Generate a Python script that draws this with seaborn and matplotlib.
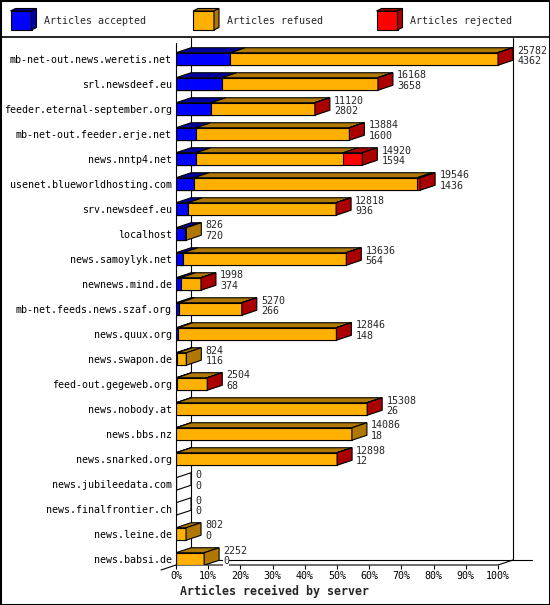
import numpy as np
import pandas as pd
import seaborn as sns
import matplotlib
matplotlib.use("Agg")
import matplotlib.pyplot as plt
from matplotlib.patches import Polygon, Rectangle
from matplotlib.lines import Line2D

servers = [
    "mb-net-out.news.weretis.net", "srl.newsdeef.eu", "feeder.eternal-september.org",
    "mb-net-out.feeder.erje.net", "news.nntp4.net", "usenet.blueworldhosting.com",
    "srv.newsdeef.eu", "localhost", "news.samoylyk.net", "newnews.mind.de",
    "mb-net.feeds.news.szaf.org", "news.quux.org", "news.swapon.de", "feed-out.gegeweb.org",
    "news.nobody.at", "news.bbs.nz", "news.snarked.org", "news.jubileedata.com",
    "news.finalfrontier.ch", "news.leine.de", "news.babsi.de",
]
offered = [25782, 16168, 11120, 13884, 14920, 19546, 12818, 826, 13636, 1998, 5270,
           12846, 824, 2504, 15308, 14086, 12898, 0, 0, 802, 2252]
accepted = [4362, 3658, 2802, 1600, 1594, 1436, 936, 720, 564, 374, 266,
            148, 116, 68, 26, 18, 12, 0, 0, 0, 0]
rejected = [40, 30, 20, 30, 1530, 250, 20, 0, 20, 10, 10,
            10, 0, 10, 20, 0, 10, 0, 0, 0, 0]
legend_labels = ["Articles accepted", "Articles refused", "Articles rejected"]
x_ticks = list(range(0, 101, 10))

BLUE, BLUE_D = "#0000FF", "#0000A0"
ORANGE, ORANGE_D = "#FFB000", "#B07800"
RED, RED_D = "#FF0000", "#AA0000"
FONT = "DejaVu Sans Mono"

sns.set_theme(style="white")
plt.rcParams["font.family"] = [FONT, "DejaVu Sans"]

offered_a = np.array(offered, float)
accepted_a = np.array(accepted, float)
rejected_a = np.array(rejected, float)
refused_a = offered_a - accepted_a - rejected_a
vmax = offered_a.max()
df = pd.DataFrame({
    "server": servers,
    "acc": accepted_a / vmax * 100,
    "accref": (accepted_a + refused_a) / vmax * 100,
    "tot": offered_a / vmax * 100,
})

W, H = 550, 605
fig = plt.figure(figsize=(W / 100, H / 100), dpi=100)
px_left, px_right, px_top, px_bot = 176, 532, 38, 565
ax = fig.add_axes([px_left / W, 1 - px_bot / H, (px_right - px_left) / W, (px_bot - px_top) / H])

LW = 0.8
for col, c in [("tot", RED), ("accref", ORANGE), ("acc", BLUE)]:
    sns.barplot(data=df, x=col, y="server", orient="h", color=c, saturation=1,
                width=0.5, edgecolor="black", linewidth=LW, errorbar=None, ax=ax)

xscale = 322 / 100.0          # px per percent
row = 25.0                    # px per row
x_max = (px_right - px_left) / xscale
y_top = (px_top - 59) / row
y_bot = (px_bot - 59) / row
dx = 15 / xscale
dy = 5 / row
hh = 0.25

ax.set_xlim(0, x_max)
ax.set_ylim(y_bot, y_top)

# 3D faces
for i, r in df.iterrows():
    yt, yb = i - hh, i + hh
    segs = [(0, r["acc"], BLUE_D), (r["acc"], r["accref"], ORANGE_D), (r["accref"], r["tot"], RED_D)]
    last = None
    for a, b, dc in segs:
        if b - a > 1e-9:
            ax.add_patch(Polygon([(a, yt), (a + dx, yt - dy), (b + dx, yt - dy), (b, yt)],
                                 closed=True, facecolor=dc, edgecolor="black", lw=LW, zorder=3))
            last = dc
    t = r["tot"]
    ax.add_patch(Polygon([(t, yt), (t + dx, yt - dy), (t + dx, yb - dy), (t, yb)], closed=True,
                         facecolor=last if last else "none", edgecolor="black", lw=LW, zorder=3))
    tx = t + dx + 1.3
    ax.text(tx, i - 0.34, f"{offered[i]}", ha="left", va="center", fontsize=7.2,
            family=FONT, zorder=5, bbox=dict(facecolor="white", edgecolor="none", pad=0))
    ax.text(tx, i + 0.08, f"{accepted[i]}", ha="left", va="center", fontsize=7.2,
            family=FONT, zorder=5, bbox=dict(facecolor="white", edgecolor="none", pad=0))

# frame lines
kw = dict(color="black", lw=LW, zorder=0.5, clip_on=False)
ax.add_line(Line2D([0, 0], [y_bot, y_top + dy], **kw))
ax.add_line(Line2D([dx, dx], [y_bot - dy, y_top], **kw))
ax.add_line(Line2D([100 + dx, 100 + dx], [y_bot - dy, y_top], **kw))
ax.add_line(Line2D([dx, x_max], [y_bot - dy, y_bot - dy], **kw))
ax.add_line(Line2D([0, 100, 100 + dx], [y_bot, y_bot, y_bot - dy], **kw))
ax.add_line(Line2D([-dx, dx], [y_bot + dy, y_bot - dy], **kw))

for s in ax.spines.values():
    s.set_visible(False)
ax.set_xlabel("")
ax.set_ylabel("")
ax.set_xticks(x_ticks)
ax.set_xticklabels([f"{v}%" for v in x_ticks])
ax.tick_params(axis="x", bottom=True, length=3.2, width=LW, direction="out", pad=1.2,
               labelsize=7.2, color="black")
ax.tick_params(axis="y", left=False, length=0, pad=3, labelsize=7.2)
for lab in ax.get_xticklabels() + ax.get_yticklabels():
    lab.set_family(FONT)
    lab.set_color("black")

fig.text(0.5, 1 - 591.5 / H, "Articles received by server", ha="center", va="center",
         fontsize=8.4, fontweight="bold", family=FONT)

# legend header
lax = fig.add_axes([0, 1 - 37 / H, 1, 37 / H])
lax.set_xlim(0, W)
lax.set_ylim(37, 0)
lax.axis("off")
for x0, (fc, dc), lab in zip([10.5, 193, 376.5],
                             [(BLUE, BLUE_D), (ORANGE, ORANGE_D), (RED, RED_D)],
                             legend_labels):
    lax.add_patch(Rectangle((x0, 11), 21, 19, facecolor=fc, edgecolor="black", lw=LW))
    lax.add_patch(Polygon([(x0, 11), (x0 + 5, 8.5), (x0 + 26, 8.5), (x0 + 21, 11)],
                          facecolor=dc, edgecolor="black", lw=LW))
    lax.add_patch(Polygon([(x0 + 21, 11), (x0 + 26, 8.5), (x0 + 26, 27.5), (x0 + 21, 30)],
                          facecolor=dc, edgecolor="black", lw=LW))
    lax.text(x0 + 34, 20.5, lab, ha="left", va="center", fontsize=7.2, family=FONT)

fig.add_artist(Line2D([0, 1], [1 - 37 / H, 1 - 37 / H], transform=fig.transFigure,
                      color="black", lw=1.2))
fig.add_artist(Rectangle((0, 0), 1, 1, transform=fig.transFigure, fill=False,
                         edgecolor="black", lw=2.2))

fig.savefig("out.png", dpi=100, facecolor="white")
